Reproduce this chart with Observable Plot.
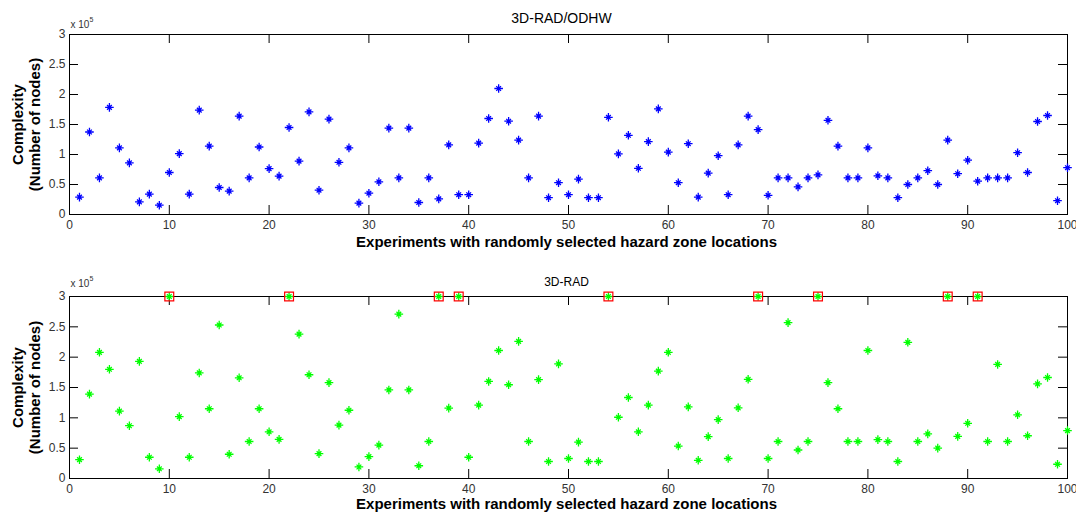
<!DOCTYPE html>
<html><head><meta charset="utf-8">
<script src="https://cdn.jsdelivr.net/npm/d3@7"></script>
<script src="https://cdn.jsdelivr.net/npm/@observablehq/plot@0.6"></script>
<style>
body{margin:0;background:#fff;}
#chart > div, #chart svg{display:block;}
</style>
</head><body><div id="chart"></div>
<script>
// Complexity (number of nodes, in units of 10^5) for experiments 1..100
const odhwComplexity = [
  0.29, 1.375, 0.61, 1.785, 1.11, 0.86, 0.21, 0.34, 0.155, 0.70,
  1.015, 0.34, 1.74, 1.14, 0.45, 0.39, 1.64, 0.61, 1.125, 0.765,
  0.64, 1.45, 0.89, 1.71, 0.405, 1.59, 0.87, 1.11, 0.19, 0.355,
  0.545, 1.44, 0.61, 1.44, 0.20, 0.61, 0.26, 1.16, 0.33, 0.33,
  1.19, 1.60, 2.10, 1.555, 1.24, 0.61, 1.64, 0.28, 0.53, 0.33,
  0.59, 0.28, 0.28, 1.62, 1.01, 1.32, 0.77, 1.215, 1.76, 1.04,
  0.53, 1.18, 0.29, 0.69, 0.98, 0.33, 1.16, 1.64, 1.415, 0.32,
  0.61, 0.61, 0.46, 0.61, 0.66, 1.57, 1.14, 0.61, 0.61, 1.11,
  0.645, 0.61, 0.28, 0.50, 0.61, 0.73, 0.50, 1.24, 0.68, 0.905,
  0.555, 0.61, 0.61, 0.61, 1.03, 0.70, 1.55, 1.65, 0.23, 0.78
];
const radComplexity = [
  0.31, 1.39, 2.08, 1.80, 1.11, 0.87, 1.93, 0.35, 0.16, 3.00,
  1.02, 0.35, 1.74, 1.15, 2.53, 0.40, 1.66, 0.61, 1.15, 0.77,
  0.645, 3.00, 2.38, 1.71, 0.41, 1.58, 0.88, 1.125, 0.19, 0.36,
  0.55, 1.46, 2.71, 1.46, 0.21, 0.61, 3.00, 1.16, 3.00, 0.35,
  1.21, 1.60, 2.11, 1.545, 2.26, 0.61, 1.63, 0.28, 1.89, 0.33,
  0.60, 0.28, 0.28, 3.00, 1.01, 1.335, 0.77, 1.21, 1.77, 2.08,
  0.535, 1.18, 0.30, 0.69, 0.97, 0.33, 1.165, 1.635, 3.00, 0.33,
  0.61, 2.57, 0.47, 0.61, 3.00, 1.58, 1.15, 0.61, 0.61, 2.11,
  0.64, 0.61, 0.28, 2.245, 0.61, 0.735, 0.50, 3.00, 0.695, 0.91,
  3.00, 0.61, 1.88, 0.61, 1.05, 0.705, 1.56, 1.665, 0.235, 0.79
];
const cappedExperiments = [10, 22, 37, 39, 54, 69, 75, 88, 91];
const xTicks = [0, 10, 20, 30, 40, 50, 60, 70, 80, 90, 100];
const yTicks = [0, 0.5, 1, 1.5, 2, 2.5, 3];
const panelTitles = ["3D-RAD/ODHW", "3D-RAD"];
const xLabel = "Experiments with randomly selected hazard zone locations";
const yLabel = "Complexity\n(Number of nodes)";
const exponentBase = "x 10";
const exponentPower = "5";

const asterisk = {
  draw(ctx, size) {
    const r = Math.sqrt(size / Math.PI);
    const d = r * 0.55;
    ctx.moveTo(-r, 0); ctx.lineTo(r, 0);
    ctx.moveTo(0, -r); ctx.lineTo(0, r);
    ctx.moveTo(-d, -d); ctx.lineTo(d, d);
    ctx.moveTo(-d, d); ctx.lineTo(d, -d);
  }
};

function panel({values, color, title, titleSize, height, marginTop, marginBottom, titleDy, titleDx, xLabelDy, expDy, extra = []}) {
  const width = 1076, marginLeft = 69, marginRight = 9;
  const plotW = width - marginLeft - marginRight;
  const plotH = height - marginTop - marginBottom;
  const font = "'Liberation Sans', Arial, Helvetica, sans-serif";
  return Plot.plot({
    width, height, marginLeft, marginRight, marginTop, marginBottom,
    style: {fontFamily: font, color: "#333", background: "#fff", overflow: "visible"},
    x: {domain: [0, 100]},
    y: {domain: [0, 3]},
    marks: [
      Plot.axisX({ticks: xTicks, tickSize: 0, tickPadding: 6, fontSize: 12, label: null, tickFormat: d => String(d)}),
      Plot.axisY({ticks: yTicks, tickSize: 0, tickPadding: 4, fontSize: 12, label: null, tickFormat: d => String(d)}),
      Plot.tickX(xTicks, {x: d => d, insetTop: plotH - 9, stroke: "#000"}),
      Plot.tickX(xTicks, {x: d => d, insetBottom: plotH - 9, stroke: "#000"}),
      Plot.tickY(yTicks, {y: d => d, insetRight: plotW - 9, stroke: "#000"}),
      Plot.tickY(yTicks, {y: d => d, insetLeft: plotW - 9, stroke: "#000"}),
      Plot.frame({stroke: "#000"}),
      Plot.dot(values, {x: (d, i) => i + 1, y: d => d, symbol: asterisk, r: 4.3, stroke: color, strokeWidth: 1.3, fill: "none"}),
      ...extra,
      Plot.text([title], {frameAnchor: "top", dy: titleDy, dx: titleDx, fontSize: titleSize, lineAnchor: "middle", fill: "#000"}),
      Plot.text([xLabel], {frameAnchor: "bottom", dy: xLabelDy, dx: -2, fontSize: 15, fontWeight: "bold", lineAnchor: "middle", fill: "#000"}),
      Plot.text([yLabel], {frameAnchor: "left", dx: -43.5, rotate: -90, fontSize: 15, fontWeight: "bold", lineHeight: 1.15, lineAnchor: "middle", textAnchor: "middle", fill: "#000"}),
      Plot.text([exponentBase], {frameAnchor: "top-left", dx: 1, dy: expDy, fontSize: 10, textAnchor: "start", lineAnchor: "middle", fill: "#333"}),
      Plot.text([exponentPower], {frameAnchor: "top-left", dx: 20, dy: expDy - 5, fontSize: 7, textAnchor: "start", lineAnchor: "middle", fill: "#333"})
    ]
  });
}

const chart = document.getElementById("chart");
chart.append(panel({
  values: odhwComplexity, color: "#0000ff", title: panelTitles[0], titleSize: 14,
  height: 250, marginTop: 34, marginBottom: 36, titleDy: -16, titleDx: -7, xLabelDy: 28, expDy: -10
}));
chart.append(panel({
  values: radComplexity, color: "#00ff00", title: panelTitles[1], titleSize: 12,
  height: 263, marginTop: 46, marginBottom: 35, titleDy: -14, titleDx: -2, xLabelDy: 26, expDy: -13,
  extra: [Plot.dot(cappedExperiments, {x: d => d, y: d => radComplexity[d - 1], symbol: "square", r: 5, stroke: "#ff0000", strokeWidth: 1.2, fill: "none"})]
}));
</script>
</body></html>
